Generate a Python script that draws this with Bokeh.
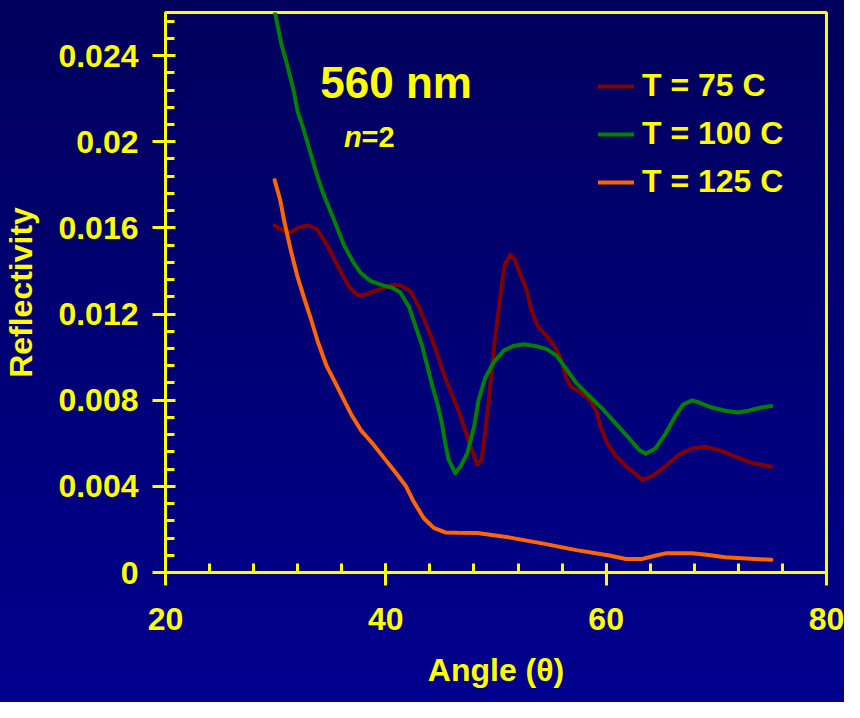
from bokeh.plotting import figure
from bokeh.models import Label, SingleIntervalTicker, CustomJSTickFormatter, Range1d
from bokeh.embed import file_html
from bokeh.resources import INLINE

# ---- data ----
series_names = ["T = 75 C", "T = 100 C", "T = 125 C"]
series_colors = ["#800000", "#008000", "#FF6600"]

angle_75 = [29.9, 30.8, 31.4, 32.2, 33.0, 33.7, 34.3, 34.9, 35.5, 36.1, 36.7, 37.45, 38.2, 39.1, 40.0,
            40.75, 41.4, 42.25, 43.0, 43.6, 44.2, 44.8, 45.4, 46.0, 46.6, 47.2, 47.8, 48.3, 48.7, 49.0,
            49.3, 49.6, 49.9, 50.2, 50.5, 50.8, 51.3, 51.7, 52.2, 52.8, 53.2, 53.8, 54.6, 55.3, 55.9,
            56.4, 56.8, 57.7, 58.5, 59.1, 59.5, 60.1, 60.9, 61.8, 62.7, 63.3, 64.2, 65.4, 66.6, 67.8,
            69.0, 70.2, 71.7, 73.2, 75.0]
refl_75 = [0.01611, 0.01584, 0.01581, 0.01604, 0.01611, 0.01596, 0.01551, 0.01498, 0.01437, 0.01377,
           0.01324, 0.01287, 0.01291, 0.01309, 0.01324, 0.01336, 0.01332, 0.01305, 0.01234, 0.01158,
           0.01083, 0.00992, 0.00901, 0.00826, 0.00751, 0.0066, 0.00569, 0.00501, 0.00524, 0.00645,
           0.0078, 0.00932, 0.01083, 0.01204, 0.01324, 0.0143, 0.01475, 0.01453, 0.01385, 0.01309,
           0.01219, 0.01143, 0.01098, 0.01052, 0.00992, 0.00901, 0.00864, 0.00834, 0.00803, 0.00751,
           0.00675, 0.00599, 0.00539, 0.00494, 0.00456, 0.0043, 0.00448, 0.00494, 0.00547, 0.00577,
           0.00584, 0.00569, 0.00539, 0.00509, 0.00491]

angle_100 = [29.9, 30.5, 31.0, 31.6, 32.0, 32.5, 33.1, 33.7, 34.3, 34.9, 35.5, 36.2, 37.0, 37.7, 38.6,
             39.8, 40.5, 41.3, 42.1, 42.7, 43.3, 43.75, 44.2, 44.7, 45.1, 45.4, 45.7, 46.3, 46.8, 47.4,
             48.0, 48.4, 49.0, 49.8, 50.7, 51.6, 52.5, 53.7, 54.6, 55.5, 56.3, 57.3, 58.5, 59.7, 60.9,
             62.1, 63.0, 63.6, 64.5, 65.4, 66.3, 67.0, 67.8, 68.5, 69.6, 70.8, 72.0, 72.9, 74.1, 75.0]
refl_100 = [0.0261, 0.02457, 0.02366, 0.02245, 0.0214, 0.02064, 0.01958, 0.01853, 0.01762, 0.01687,
            0.01611, 0.0152, 0.01445, 0.01392, 0.01354, 0.01332, 0.01324, 0.01301, 0.01234, 0.01143,
            0.01052, 0.00962, 0.00871, 0.0078, 0.0069, 0.00599, 0.00524, 0.00461, 0.00494, 0.00554,
            0.00675, 0.00796, 0.00901, 0.00977, 0.0103, 0.01052, 0.0106, 0.0105, 0.01037, 0.01007,
            0.0095, 0.00879, 0.00818, 0.00758, 0.0069, 0.00622, 0.00569, 0.00551, 0.00577, 0.00645,
            0.00728, 0.0078, 0.00799, 0.00788, 0.00766, 0.00751, 0.00743, 0.00751, 0.00766, 0.00773]

angle_125 = [29.9, 30.4, 30.8, 31.4, 32.0, 32.6, 33.2, 33.85, 34.6, 35.35,
             36.1, 36.85, 37.75, 38.8, 39.85, 40.9, 41.8, 42.55, 43.45, 44.35,
             45.4, 46.5, 48.3, 51.3, 54.3, 57.3, 60.3, 61.8, 63.3, 64.5,
             65.4, 67.8, 69.3, 70.8, 72.3, 75.0]
refl_125 = [0.01822, 0.01732, 0.01626, 0.0149, 0.0137, 0.01272, 0.01177, 0.01068, 0.00962, 0.00887,
            0.00811, 0.00735, 0.0066, 0.00599, 0.00531, 0.00463, 0.00403, 0.00327, 0.00252, 0.00207,
            0.00186, 0.00184, 0.00183, 0.00162, 0.00134, 0.00104, 0.00079, 0.00063, 0.00063, 0.00079,
            0.00089, 0.00089, 0.00081, 0.00071, 0.00066, 0.00059]

x_ticks_interval = 20
y_ticks_interval = 0.004

YELLOW = "#FFFF00"
FONT = "Liberation Sans"

p = figure(width=844, height=702, output_backend="svg", toolbar_location=None,
           x_range=Range1d(20, 80), y_range=Range1d(0, 0.026),
           min_border_left=165, min_border_right=18, min_border_top=12, min_border_bottom=130)
p.background_fill_alpha = 0
p.border_fill_alpha = 0
p.styles = {"background": "linear-gradient(to bottom, #00005c, #00008e)"}
p.outline_line_color = YELLOW
p.outline_line_width = 3
p.outline_line_alpha = 1
p.grid.visible = False

for ax in (p.xaxis[0], p.yaxis[0]):
    ax.axis_line_color = YELLOW
    ax.axis_line_width = 3
    ax.major_tick_line_color = YELLOW
    ax.major_tick_line_width = 3
    ax.minor_tick_line_color = YELLOW
    ax.minor_tick_line_width = 3
    ax.major_tick_out = 13
    ax.minor_tick_out = 0
    ax.minor_tick_in = 9
    ax.major_label_text_color = YELLOW
    ax.major_label_text_font = FONT
    ax.major_label_text_font_style = "bold"
    ax.major_label_text_font_size = "32px"
    ax.axis_label_text_color = YELLOW
    ax.axis_label_text_font = FONT
    ax.axis_label_text_font_style = "bold"
    ax.axis_label_text_font_size = "32px"

p.xaxis.major_tick_in = 9
p.yaxis.major_tick_in = 10
p.xaxis.ticker = SingleIntervalTicker(interval=x_ticks_interval, num_minor_ticks=5)
p.yaxis.ticker = SingleIntervalTicker(interval=y_ticks_interval, num_minor_ticks=5)
p.yaxis.formatter = CustomJSTickFormatter(
    code="return tick == 0 ? '0' : tick.toFixed(3).replace(/0+$/, '');")
p.xaxis.axis_label = "Angle (θ)"
p.yaxis.axis_label = "Reflectivity"
p.xaxis.major_label_standoff = 22
p.xaxis.axis_label_standoff = 19
p.yaxis.major_label_standoff = 14
p.yaxis.axis_label_standoff = 16

for xs, ys, c, name in zip([angle_75, angle_100, angle_125],
                           [refl_75, refl_100, refl_125],
                           series_colors, series_names):
    p.line(xs, ys, line_color=c, line_width=4, line_cap="round", line_join="round",
           legend_label=name)

lg = p.legend[0]
lg.location = (433, 372)
lg.padding = 0
lg.margin = 0
lg.spacing = 11
lg.glyph_width = 36
lg.glyph_height = 20
lg.label_standoff = 8
lg.label_text_color = YELLOW
lg.label_text_font = FONT
lg.label_text_font_style = "bold"
lg.label_text_font_size = "32px"
lg.border_line_alpha = 0
lg.background_fill_alpha = 0

p.add_layout(Label(x=34.05, y=0.02274, text="560 nm", text_color=YELLOW, text_font=FONT,
                   text_font_style="bold", text_font_size="44px", text_baseline="alphabetic"))
p.add_layout(Label(x=36.2, y=0.0202, text="n", text_color=YELLOW, text_font=FONT,
                   text_font_style="bold italic", text_font_size="29px", text_baseline="alphabetic"))
p.add_layout(Label(x=37.8, y=0.0202, text="=2", text_color=YELLOW, text_font=FONT,
                   text_font_style="bold", text_font_size="29px", text_baseline="alphabetic"))

open("out.html", "w").write(file_html(p, INLINE))
